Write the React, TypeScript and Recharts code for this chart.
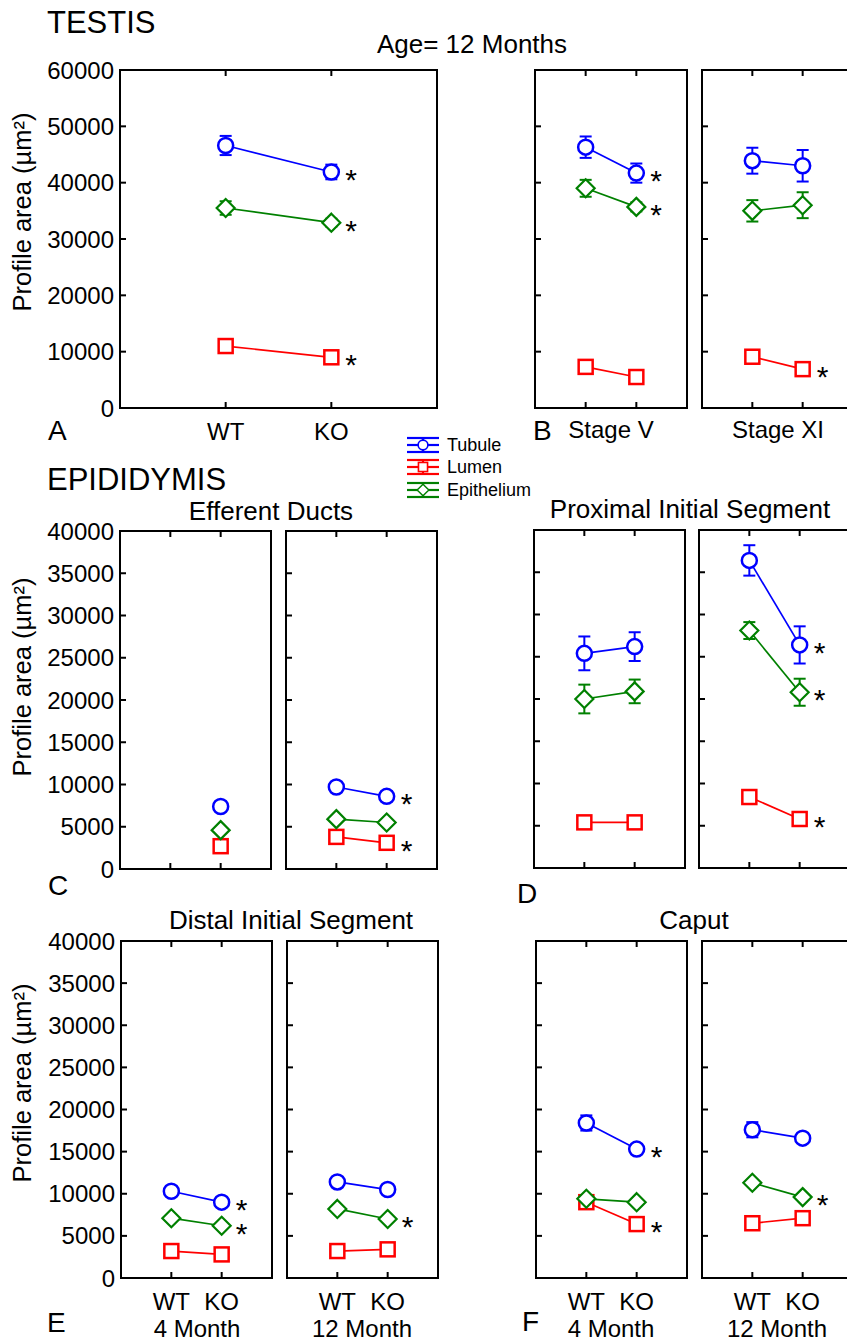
import React from "react";
import { LineChart, Line, XAxis, YAxis, ErrorBar } from "recharts";

const FONT = "'Liberation Sans', Arial, Helvetica, sans-serif";
const BLUE = "#0000ff";
const RED = "#ff0000";
const GREEN = "#008000";

const groups = ["WT", "KO"];
const xTicks = [1, 2];
const yTicks60 = [0, 10000, 20000, 30000, 40000, 50000, 60000];
const yTicks40 = [0, 5000, 10000, 15000, 20000, 25000, 30000, 35000, 40000];

// A: testis 12 months
const aTubule = [46600, 41900];
const aTubuleErr = [1700, 1300];
const aLumen = [11000, 9000];
const aLumenErr = [400, 300];
const aEpi = [35500, 32900];
const aEpiErr = [1200, 700];
const aStars = ["tubule", "lumen", "epithelium"];

// B: Stage V
const bvTubule = [46300, 41700];
const bvTubuleErr = [1900, 1700];
const bvLumen = [7300, 5500];
const bvLumenErr = [300, 300];
const bvEpi = [39000, 35700];
const bvEpiErr = [1500, 800];
const bvStars = ["tubule", "epithelium"];

// B: Stage XI
const bxTubule = [43900, 43000];
const bxTubuleErr = [2300, 2800];
const bxLumen = [9100, 6900];
const bxLumenErr = [300, 300];
const bxEpi = [35000, 36000];
const bxEpiErr = [1900, 2300];
const bxStars = ["lumen"];

// C: efferent ducts 4 months (WT missing)
const c4Tubule = [null, 7400];
const c4Lumen = [null, 2700];
const c4Epi = [null, 4600];
const c4Stars: string[] = [];

// C: efferent ducts 12 months
const c12Tubule = [9700, 8600];
const c12TubuleErr = [300, 600];
const c12Lumen = [3800, 3100];
const c12LumenErr = [200, 200];
const c12Epi = [5900, 5500];
const c12EpiErr = [200, 200];
const c12Stars = ["tubule", "lumen"];

// D: proximal initial segment 4 months
const d4Tubule = [25400, 26200];
const d4TubuleErr = [2000, 1700];
const d4Lumen = [5400, 5400];
const d4LumenErr = [200, 200];
const d4Epi = [20000, 20900];
const d4EpiErr = [1700, 1400];
const d4Stars: string[] = [];

// D: proximal initial segment 12 months
const d12Tubule = [36400, 26400];
const d12TubuleErr = [1800, 2200];
const d12Lumen = [8400, 5800];
const d12LumenErr = [300, 300];
const d12Epi = [28100, 20800];
const d12EpiErr = [1000, 1600];
const d12Stars = ["tubule", "lumen", "epithelium"];

// E: distal initial segment 4 months
const e4Tubule = [10300, 9000];
const e4TubuleErr = [300, 300];
const e4Lumen = [3200, 2800];
const e4LumenErr = [200, 200];
const e4Epi = [7100, 6200];
const e4EpiErr = [200, 200];
const e4Stars = ["tubule", "epithelium"];

// E: distal initial segment 12 months
const e12Tubule = [11400, 10500];
const e12TubuleErr = [300, 300];
const e12Lumen = [3200, 3400];
const e12LumenErr = [200, 200];
const e12Epi = [8200, 7000];
const e12EpiErr = [200, 200];
const e12Stars = ["epithelium"];

// F: caput 4 months
const f4Tubule = [18400, 15300];
const f4TubuleErr = [900, 300];
const f4Lumen = [9000, 6400];
const f4LumenErr = [300, 300];
const f4Epi = [9400, 9000];
const f4EpiErr = [300, 300];
const f4Stars = ["tubule", "lumen"];

// F: caput 12 months
const f12Tubule = [17600, 16600];
const f12TubuleErr = [900, 300];
const f12Lumen = [6500, 7100];
const f12LumenErr = [300, 300];
const f12Epi = [11300, 9600];
const f12EpiErr = [300, 300];
const f12Stars = ["epithelium"];

const seriesDefs = [
  { key: "tubule", name: "Tubule", color: BLUE, shape: "circle" },
  { key: "lumen", name: "Lumen", color: RED, shape: "square" },
  { key: "epithelium", name: "Epithelium", color: GREEN, shape: "diamond" },
];

function buildRows(t: any[], l: any[], e: any[], te?: number[], le?: number[], ee?: number[]) {
  return groups.map((g, i) => ({
    x: i + 1,
    group: g,
    tubule: t[i],
    lumen: l[i],
    epithelium: e[i],
    tubuleErr: te ? te[i] : 0,
    lumenErr: le ? le[i] : 0,
    epitheliumErr: ee ? ee[i] : 0,
  }));
}

function Marker({ shape, cx, cy, color }: any) {
  if (cx == null || cy == null || Number.isNaN(cy) || Number.isNaN(cx)) return <g />;
  if (shape === "circle")
    return <circle cx={cx} cy={cy} r={7.5} fill="#fff" stroke={color} strokeWidth={2.5} />;
  if (shape === "square")
    return <rect x={cx - 7} y={cy - 7} width={14} height={14} fill="#fff" stroke={color} strokeWidth={2.5} />;
  return (
    <polygon
      points={`${cx},${cy - 9} ${cx + 9},${cy} ${cx},${cy + 9} ${cx - 9},${cy}`}
      fill="#fff"
      stroke={color}
      strokeWidth={2.2}
    />
  );
}

const AX = { stroke: "#000", strokeWidth: 2, strokeLinecap: "square" };

function Panel(p: any) {
  const PADL = p.showY ? 112 : 20;
  const PADR = 40;
  const PADT = 24;
  const PADB = p.xLabels ? 42 : 24;
  const W = p.w + PADL + PADR;
  const H = p.h + PADT + PADB;
  return (
    <div style={{ position: "absolute", left: p.left - PADL, top: p.top - PADT }}>
      <LineChart width={W} height={H} data={p.data} margin={{ top: 0, right: 0, bottom: 0, left: 0 }}>
        <XAxis
          xAxisId="b"
          dataKey="x"
          type="number"
          orientation="bottom"
          domain={[0, 3]}
          ticks={xTicks}
          interval={0}
          height={PADB}
          tickSize={0}
          tickMargin={0}
          axisLine={AX}
          tickLine={false}
          tick={(t: any) => (
            <g key={`bt${t.index}`}>
              <line x1={t.x} y1={t.y} x2={t.x} y2={t.y - 6} stroke="#000" strokeWidth={2} />
              {p.xLabels && (
                <text x={t.x} y={t.y + 32} textAnchor="middle" fontSize={24} fontFamily={FONT} fill="#000">
                  {groups[t.payload.value - 1]}
                </text>
              )}
            </g>
          )}
        />
        <XAxis
          xAxisId="t"
          dataKey="x"
          type="number"
          orientation="top"
          domain={[0, 3]}
          ticks={xTicks}
          interval={0}
          height={PADT}
          tickSize={0}
          tickMargin={0}
          axisLine={AX}
          tickLine={false}
          tick={(t: any) => (
            <g key={`tt${t.index}`}>
              <line x1={t.x} y1={t.y} x2={t.x} y2={t.y + 6} stroke="#000" strokeWidth={2} />
            </g>
          )}
        />
        <YAxis
          yAxisId="l"
          type="number"
          orientation="left"
          domain={[0, p.yTicks[p.yTicks.length - 1]]}
          ticks={p.yTicks}
          interval={0}
          width={PADL}
          tickSize={0}
          tickMargin={0}
          axisLine={AX}
          tickLine={false}
          tick={(t: any) => (
            <g key={`lt${t.index}`}>
              <line x1={t.x} y1={t.y} x2={t.x + 6} y2={t.y} stroke="#000" strokeWidth={2} />
              {p.showY && (
                <text x={t.x - 6} y={t.y + 8.5} textAnchor="end" fontSize={24} fontFamily={FONT} fill="#000">
                  {String(t.payload.value)}
                </text>
              )}
            </g>
          )}
        />
        <YAxis
          yAxisId="r"
          type="number"
          orientation="right"
          domain={[0, p.yTicks[p.yTicks.length - 1]]}
          ticks={p.yTicks}
          interval={0}
          width={PADR}
          tickSize={0}
          tickMargin={0}
          axisLine={AX}
          tickLine={false}
          tick={(t: any) => (
            <g key={`rt${t.index}`}>
              <line x1={t.x} y1={t.y} x2={t.x - 6} y2={t.y} stroke="#000" strokeWidth={2} />
            </g>
          )}
        />
        {seriesDefs.map((s) => (
          <Line
            key={s.key}
            xAxisId="b"
            yAxisId="l"
            type="linear"
            dataKey={s.key}
            stroke={s.color}
            strokeWidth={1.7}
            isAnimationActive={false}
            connectNulls={false}
            dot={(d: any) => <Marker key={`${s.key}d${d.index}`} shape={s.shape} cx={d.cx} cy={d.cy} color={s.color} />}
            activeDot={false}
            label={(lp: any) =>
              p.stars.includes(s.key) && lp.index === 1 ? (
                <text
                  key={`${s.key}s${lp.index}`}
                  x={lp.x + 14}
                  y={lp.y + 18}
                  fontSize={30}
                  fontFamily={FONT}
                  fill="#000"
                >
                  *
                </text>
              ) : (
                <g key={`${s.key}s${lp.index}`} />
              )
            }
          >
            {p.errors && (
              <ErrorBar
                dataKey={`${s.key}Err`}
                width={6}
                stroke={s.color}
                strokeWidth={2}
                direction="y"
              />
            )}
          </Line>
        ))}
      </LineChart>
    </div>
  );
}

function LegendIcon({ y, color, shape }: any) {
  const x0 = 407;
  const x1 = 439;
  const xm = 423;
  return (
    <g>
      <line x1={x0} y1={y - 7} x2={x1} y2={y - 7} stroke={color} strokeWidth={2.2} />
      <line x1={x0} y1={y} x2={x1} y2={y} stroke={color} strokeWidth={2.2} />
      <line x1={x0} y1={y + 7} x2={x1} y2={y + 7} stroke={color} strokeWidth={2.2} />
      <line x1={xm} y1={y - 7} x2={xm} y2={y + 7} stroke={color} strokeWidth={2.2} />
      <g transform={`translate(${xm},${y}) scale(0.65) translate(${-xm},${-y})`}>
        <Marker shape={shape} cx={xm} cy={y} color={color} />
      </g>
    </g>
  );
}

const legendRows = [445, 467, 490];

export default function App() {
  const panels = [
    { left: 120, top: 70, w: 317, h: 338, yTicks: yTicks60, showY: true, xLabels: true, errors: true, stars: aStars, data: buildRows(aTubule, aLumen, aEpi, aTubuleErr, aLumenErr, aEpiErr) },
    { left: 535, top: 70, w: 152, h: 338, yTicks: yTicks60, showY: false, xLabels: false, errors: true, stars: bvStars, data: buildRows(bvTubule, bvLumen, bvEpi, bvTubuleErr, bvLumenErr, bvEpiErr) },
    { left: 702, top: 70, w: 151, h: 338, yTicks: yTicks60, showY: false, xLabels: false, errors: true, stars: bxStars, data: buildRows(bxTubule, bxLumen, bxEpi, bxTubuleErr, bxLumenErr, bxEpiErr) },
    { left: 120, top: 531, w: 151, h: 338, yTicks: yTicks40, showY: true, xLabels: false, errors: false, stars: c4Stars, data: buildRows(c4Tubule, c4Lumen, c4Epi) },
    { left: 286, top: 531, w: 151, h: 338, yTicks: yTicks40, showY: false, xLabels: false, errors: true, stars: c12Stars, data: buildRows(c12Tubule, c12Lumen, c12Epi, c12TubuleErr, c12LumenErr, c12EpiErr) },
    { left: 534, top: 530, w: 151, h: 338, yTicks: yTicks40, showY: false, xLabels: false, errors: true, stars: d4Stars, data: buildRows(d4Tubule, d4Lumen, d4Epi, d4TubuleErr, d4LumenErr, d4EpiErr) },
    { left: 699, top: 530, w: 151, h: 338, yTicks: yTicks40, showY: false, xLabels: false, errors: true, stars: d12Stars, data: buildRows(d12Tubule, d12Lumen, d12Epi, d12TubuleErr, d12LumenErr, d12EpiErr) },
    { left: 121, top: 941, w: 151, h: 337, yTicks: yTicks40, showY: true, xLabels: true, errors: true, stars: e4Stars, data: buildRows(e4Tubule, e4Lumen, e4Epi, e4TubuleErr, e4LumenErr, e4EpiErr) },
    { left: 287, top: 941, w: 151, h: 337, yTicks: yTicks40, showY: false, xLabels: true, errors: true, stars: e12Stars, data: buildRows(e12Tubule, e12Lumen, e12Epi, e12TubuleErr, e12LumenErr, e12EpiErr) },
    { left: 536, top: 941, w: 151, h: 337, yTicks: yTicks40, showY: false, xLabels: true, errors: true, stars: f4Stars, data: buildRows(f4Tubule, f4Lumen, f4Epi, f4TubuleErr, f4LumenErr, f4EpiErr) },
    { left: 702, top: 941, w: 151, h: 337, yTicks: yTicks40, showY: false, xLabels: true, errors: true, stars: f12Stars, data: buildRows(f12Tubule, f12Lumen, f12Epi, f12TubuleErr, f12LumenErr, f12EpiErr) },
  ];

  const T = (props: any) => <text fontFamily={FONT} fill="#000" {...props} />;

  return (
    <div
      style={{
        position: "absolute",
        left: 0,
        top: 0,
        width: 847,
        height: 1341,
        overflow: "hidden",
        background: "#fff",
        fontFamily: FONT,
      }}
    >
      {panels.map((p, i) => (
        <Panel key={i} {...p} />
      ))}
      <svg
        width={847}
        height={1341}
        style={{ position: "absolute", left: 0, top: 0, pointerEvents: "none" }}
      >
        <T x={47} y={33} fontSize={31}>TESTIS</T>
        <T x={472} y={53} fontSize={26} textAnchor="middle">Age= 12 Months</T>
        <T x={47} y={490} fontSize={31}>EPIDIDYMIS</T>

        <T x={48} y={440} fontSize={28}>A</T>
        <T x={533} y={440} fontSize={28}>B</T>
        <T x={48} y={895} fontSize={28}>C</T>
        <T x={517} y={903} fontSize={28}>D</T>
        <T x={47} y={1332} fontSize={28}>E</T>
        <T x={522} y={1331} fontSize={28}>F</T>

        <T x={611} y={438} fontSize={24} textAnchor="middle">Stage V</T>
        <T x={778} y={438} fontSize={24} textAnchor="middle">Stage XI</T>

        <T x={271} y={520} fontSize={26} textAnchor="middle">Efferent Ducts</T>
        <T x={690} y={518} fontSize={26} textAnchor="middle">Proximal Initial Segment</T>
        <T x={291} y={929} fontSize={26} textAnchor="middle">Distal Initial Segment</T>
        <T x={694} y={929} fontSize={26} textAnchor="middle">Caput</T>

        <T x={197} y={1337} fontSize={24} textAnchor="middle">4 Month</T>
        <T x={362} y={1337} fontSize={24} textAnchor="middle">12 Month</T>
        <T x={611} y={1337} fontSize={24} textAnchor="middle">4 Month</T>
        <T x={777} y={1337} fontSize={24} textAnchor="middle">12 Month</T>

        <T x={31} y={212} fontSize={25.5} textAnchor="middle" transform="rotate(-90 31 212)">Profile area (µm²)</T>
        <T x={31} y={677} fontSize={25.5} textAnchor="middle" transform="rotate(-90 31 677)">Profile area (µm²)</T>
        <T x={31} y={1083} fontSize={25.5} textAnchor="middle" transform="rotate(-90 31 1083)">Profile area (µm²)</T>

        {seriesDefs.map((s, i) => (
          <g key={s.key}>
            <LegendIcon y={legendRows[i]} color={s.color} shape={s.shape} />
            <T x={447} y={legendRows[i] + 6} fontSize={18}>{s.name}</T>
          </g>
        ))}
      </svg>
    </div>
  );
}
